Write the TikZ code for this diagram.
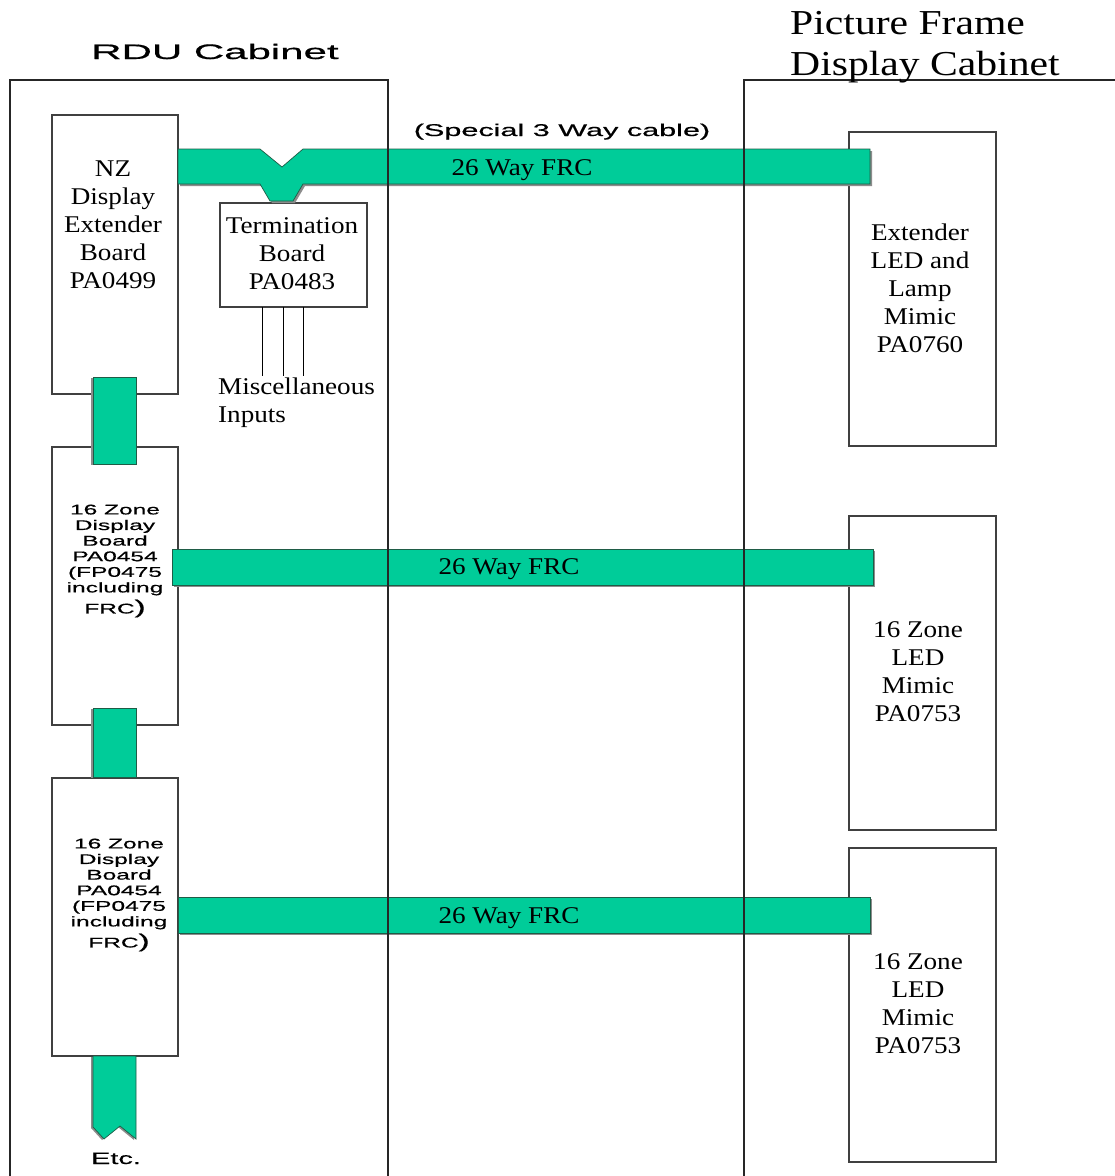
\documentclass[tikz,border=0pt]{standalone}
\usepackage{fontspec}
\setmainfont{Liberation Serif}
\newfontfamily\serifA[FakeStretch=1.13]{Liberation Serif}
\newfontfamily\serifT[FakeStretch=1.19]{Liberation Serif}
\newfontfamily\sansA[FakeStretch=1.75,FakeBold=0.6]{Liberation Sans}
\newfontfamily\sansS[FakeStretch=1.8,FakeBold=0.6]{Liberation Sans}
\newfontfamily\sansR[FakeStretch=2.0,FakeBold=0.7]{Liberation Sans}
\definecolor{frc}{HTML}{00CC99}
\definecolor{frcdark}{HTML}{1F5C46}
\begin{document}
\begin{tikzpicture}[x=1pt,y=-1pt,
  board/.style={draw=black!75, line width=1.3pt, fill=white, inner sep=0pt, outer sep=0pt, anchor=north west},
  cabline/.style={draw=black!85, line width=1.2pt},
  band/.style={fill=frc, draw=frcdark, line width=0.7pt},
  bandshadow/.style={fill=black!45},
  slbl/.style={font=\serifA\fontsize{24}{28}\selectfont, align=center, inner sep=0pt},
  sanssmall/.style={font=\sansA\fontsize{14}{15.6}\selectfont, align=center, inner sep=0pt},
  frclbl/.style={font=\serifA\fontsize{24}{28}\selectfont, inner sep=0pt, anchor=base},
  wire/.style={draw=black, line width=1pt}
]
\useasboundingbox (0,0) rectangle (1115,1176);
\fill[white] (0,0) rectangle (1115,1176);

% boards
\node[board, minimum width=126, minimum height=279] (nz) at (52,115) {};
\node[board, minimum width=147, minimum height=104] (term) at (220,203) {};
\node[board, minimum width=126, minimum height=278] (zb1) at (52,447) {};
\node[board, minimum width=126, minimum height=278] (zb2) at (52,778) {};
\node[board, minimum width=147, minimum height=314] (ext) at (849,132) {};
\node[board, minimum width=147, minimum height=314] (led1) at (849,516) {};
\node[board, minimum width=147, minimum height=314] (led2) at (849,848) {};

% band shadows
\fill[bandshadow, shift={(2,2)}] (178,149) -- (260,149) -- (282,167) -- (303,149) -- (870,149) -- (870,184) -- (303,184) -- (293,201) -- (270,201) -- (260,184) -- (178,184) -- cycle;
\fill[bandshadow, shift={(2,2)}] (172,549) rectangle (873,585);
\fill[bandshadow, shift={(2,2)}] (178,897) rectangle (870,933);
\fill[bandshadow, shift={(-2,1)}] (93,377) rectangle (136,464);
\fill[bandshadow, shift={(-2,1)}] (93,708) rectangle (136,777);
\fill[bandshadow, shift={(-2,1)}] (93,1056) -- (93,1127) -- (104,1139) -- (120,1126) -- (136,1139) -- (136,1056) -- cycle;

% bands
\filldraw[band] (178,149) -- (260,149) -- (282,167) -- (303,149) -- (870,149) -- (870,184) -- (303,184) -- (293,201) -- (270,201) -- (260,184) -- (178,184) -- cycle;
\filldraw[band] (172,549) rectangle (873,585);
\filldraw[band] (178,897) rectangle (870,933);
\filldraw[band] (93,377) rectangle (136,464);
\filldraw[band] (93,708) rectangle (136,777);
\filldraw[band] (93,1056) -- (93,1127) -- (104,1139) -- (120,1126) -- (136,1139) -- (136,1056) -- cycle;

% cabinets
\draw[cabline] (10,1176) -- (10,80) -- (388,80) -- (388,1176);
\draw[cabline] (744,1176) -- (744,80) -- (1115,80);

% wires from termination board
\coordinate (m1) at (262,376);
\coordinate (m2) at (283,376);
\coordinate (m3) at (303,376);
\draw[wire] (term.south -| m1) -- (m1);
\draw[wire] (term.south -| m2) -- (m2);
\draw[wire] (term.south -| m3) -- (m3);

% labels
\node[font=\sansR\fontsize{21}{24}\selectfont, anchor=base, inner sep=0pt] (rdu) at (215,59) {RDU Cabinet};
\node[font=\serifT\fontsize{35}{41}\selectfont, align=left, anchor=west, inner sep=0pt] (pfd) at (790,47) {Picture Frame\\Display Cabinet};
\node[font=\sansS\fontsize{17}{20}\selectfont, anchor=base, inner sep=0pt] (special) at (562,136) {(Special 3 Way cable)};

\node[slbl] (nzt) at (113,225) {NZ\\Display\\Extender\\Board\\PA0499};
\node[slbl] (termt) at (292,254) {Termination\\Board\\PA0483};
\node[slbl, align=left, anchor=west] (misc) at (218,403) {Miscellaneous\\Inputs};
\node[slbl] (extt) at (920,288) {Extender\\LED and\\Lamp\\Mimic\\PA0760};
\node[slbl] (led1t) at (918,672) {16 Zone\\LED\\Mimic\\PA0753};
\node[slbl] (led2t) at (918,1004) {16 Zone\\LED\\Mimic\\PA0753};

\node[sanssmall] (zb1t) at (115,561) {16 Zone\\Display\\Board\\PA0454\\(FP0475\\including\\[3.4pt]FRC{\fontsize{19}{19}\selectfont)}};
\node[sanssmall] (zb2t) at (119,895) {16 Zone\\Display\\Board\\PA0454\\(FP0475\\including\\[3.4pt]FRC{\fontsize{19}{19}\selectfont)}};

\node[frclbl] (f1) at (522,175) {26 Way FRC};
\node[frclbl] (f2) at (509,574) {26 Way FRC};
\node[frclbl] (f3) at (509,923) {26 Way FRC};

\node[font=\sansA\fontsize{16.5}{20}\selectfont, anchor=base, inner sep=0pt] (etc) at (116,1164) {Etc.};
\end{tikzpicture}
\end{document}
